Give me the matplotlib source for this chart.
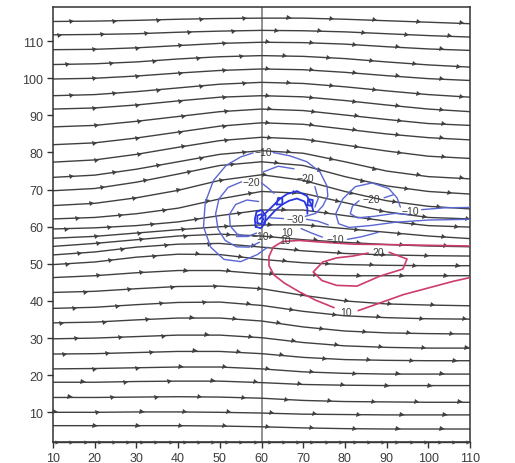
import numpy as np
import matplotlib
matplotlib.use("Agg")
import matplotlib.pyplot as plt
from matplotlib.markers import MarkerStyle
from matplotlib.transforms import Affine2D

# ---------------- data ----------------
stream_x = [10, 20, 30, 40, 50, 60, 70, 80, 90, 100, 110]

stream_upper = [
    [115.3, 115.4, 115.6, 115.9, 116.1, 116.2, 116.2, 115.9, 115.5, 115.1, 114.7],
    [111.7, 111.8, 112.0, 112.4, 112.7, 112.9, 112.8, 112.5, 112.0, 111.5, 111.1],
    [107.7, 107.8, 108.2, 108.8, 109.4, 109.7, 109.6, 109.2, 108.5, 107.9, 107.5],
    [103.7, 103.9, 104.4, 105.2, 105.8, 106.1, 105.9, 105.3, 104.4, 103.6, 103.0],
    [99.8, 100.0, 100.6, 101.4, 102.1, 102.5, 102.3, 101.6, 100.7, 99.9, 99.4],
    [95.3, 95.6, 96.4, 97.4, 98.4, 98.9, 98.6, 97.7, 96.6, 95.6, 94.9],
    [91.7, 92.0, 92.8, 93.9, 94.9, 95.3, 95.0, 94.0, 92.8, 91.7, 91.0],
    [86.9, 87.3, 88.4, 89.7, 91.0, 91.7, 91.3, 90.1, 88.9, 87.8, 87.3],
    [82.1, 82.6, 83.9, 85.5, 87.1, 88.0, 87.6, 86.3, 85.0, 84.0, 83.4],
    [77.4, 78.0, 79.5, 81.4, 83.2, 84.1, 83.6, 82.0, 80.4, 79.0, 78.4],
]
stream_middle = [
    [73.3, 73.9, 75.5, 77.5, 79.5, 80.5, 79.8, 77.5, 75.0, 73.5, 72.9],
    [69.7, 70.3, 72.0, 74.2, 76.5, 77.5, 76.5, 73.5, 71.0, 69.5, 68.8],
    [65.7, 66.3, 67.8, 69.8, 72.5, 74.0, 72.5, 69.5, 67.0, 65.5, 64.8],
    [62.1, 62.5, 63.5, 65.0, 67.5, 69.5, 69.0, 66.5, 64.0, 62.5, 62.1],
    [59.4, 59.7, 60.3, 61.3, 63.0, 64.5, 64.5, 63.0, 61.5, 60.3, 59.9],
    [56.9, 57.4, 58.3, 59.2, 60.0, 60.5, 60.5, 59.5, 58.5, 57.5, 56.8],
    [54.7, 55.5, 56.5, 57.5, 58.0, 57.5, 56.5, 55.8, 55.2, 54.8, 54.6],
    [52.4, 53.2, 54.5, 55.3, 55.5, 54.5, 53.5, 52.8, 52.4, 52.2, 52.1],
    [49.8, 50.5, 51.8, 52.6, 52.5, 51.2, 50.3, 49.8, 49.6, 49.5, 49.5],
    [46.3, 46.8, 47.6, 48.2, 48.2, 47.3, 47.0, 46.8, 46.8, 46.8, 46.8],
]
stream_lower = [
    [42.3, 42.6, 43.3, 43.9, 44.0, 43.3, 41.5, 40.0, 39.2, 38.9, 38.7],
    [38.0, 38.3, 39.0, 39.6, 39.7, 38.8, 37.2, 36.0, 35.5, 35.2, 35.1],
    [34.1, 34.3, 34.9, 35.4, 35.4, 34.6, 33.0, 31.9, 31.4, 31.2, 31.1],
    [29.8, 30.0, 30.4, 30.8, 30.8, 30.1, 28.8, 27.9, 27.5, 27.3, 27.3],
    [25.7, 25.8, 26.1, 26.4, 26.4, 25.8, 24.8, 24.2, 24.0, 23.9, 23.9],
    [21.7, 21.8, 22.0, 22.2, 22.2, 21.7, 20.9, 20.5, 20.3, 20.3, 20.3],
    [18.1, 18.1, 18.3, 18.4, 18.4, 18.0, 17.5, 17.3, 17.2, 17.2, 17.2],
    [14.0, 14.0, 14.1, 14.2, 14.1, 13.8, 13.2, 12.9, 12.8, 12.7, 12.7],
    [10.0, 10.0, 10.1, 10.1, 10.0, 9.8, 9.5, 9.4, 9.3, 9.3, 9.3],
    [6.4, 6.4, 6.4, 6.4, 6.3, 6.1, 5.8, 5.6, 5.5, 5.5, 5.5],
]
stream_bottom = [2.0, 2.0, 2.0, 2.0, 2.0, 2.0, 2.0, 2.0, 2.0, 2.0, 2.0]

# first arrow position (x) on each streamline, top to bottom
arrow_first = [14.5, 11.7, 20.0, 13.7, 20.0, 14.5, 20.0, 20.5, 20.0, 20.5,
               14.5, 22.0, 19.3, 16.0, 13.3, 20.5, 21.0, 16.5, 13.6, 21.0,
               18.0, 15.3, 12.1, 15.8, 12.9, 20.0, 17.2, 14.1, 10.5, 20.0]

# negative (blue) contour pieces
neg10_ring = [(61.5, 54.5), (59, 52.5), (55, 50.6), (51, 51.2), (47.8, 54.5), (46.1, 60),
              (46.5, 66.5), (48.5, 72.5), (51.5, 76.5), (55, 78.8), (58.0, 79.9)]
neg10_arc = [(62.8, 80.0), (66.8, 79.1), (70.9, 77.5), (74.0, 74.8), (75.7, 71.0),
             (75.9, 68.3), (74.7, 65.6), (73.0, 63.6), (70.5, 62.8)]
neg20_ring = [(55.2, 72.1), (52, 70.6), (49.8, 67.5), (49, 63.5), (49.6, 59.3),
              (51.3, 56.3), (54, 54.6), (57, 54.5), (59.5, 55.8)]
neg20_ring_tail = [(60.0, 71.8), (61.5, 70.5), (63, 69)]
neg30_ring = [(59.3, 66.8), (56.5, 67.2), (53.8, 66), (52.3, 63.3), (52.5, 60.2),
              (54.2, 58), (56.8, 57.4), (58.8, 58.3)]
core_a = [(58.6, 60), (58.4, 62), (58.8, 64), (60, 64.5), (61, 63), (60.8, 60.8), (59.8, 59.6), (58.6, 60)]
core_b = [(59, 61), (59, 63), (60, 63.4), (60.4, 62), (59.9, 60.7), (59, 61)]
arch_a = [(59.6, 62.1), (62.8, 65.7), (64.4, 67.5), (66.1, 68.8), (68.5, 69.6),
          (70.9, 68.3), (72.1, 65.6), (72.4, 64.3)]
arch_b = [(60.5, 61), (63.2, 64.3), (65, 66), (66.6, 67), (68.5, 67.6),
          (70.3, 66.8), (71, 65), (71, 63.5)]
blob_a = [(63.6, 66.0), (64.0, 67.8), (65.0, 67.6), (65.0, 66.0), (63.6, 66.0)]
blob_b = [(71.0, 65.8), (71.2, 67.4), (72.3, 67.2), (72.2, 65.6), (71.0, 65.8)]
neg20_arc_a = [(60.5, 74.8), (64, 76.3), (67.8, 75.6)]
neg20_arc_b = [(72.8, 70.8), (73.6, 67.6), (72.8, 65.3)]
neg30_left = [(62.0, 62.4), (65.3, 62.2)]
neg30_right = [(70.8, 62.0), (73.5, 61.5), (76, 60.5)]
neg10_low_a = [(53.8, 57.6), (56.6, 57.6)]
neg10_mid_a = [(69.5, 59.5), (72, 58.3), (74.6, 57.2)]
neg10_mid_b = [(80.6, 56.6), (84, 57.3), (88, 58.5)]
neg10_right_a = [(110, 65.2), (104, 65.1), (98.4, 64.6)]
neg10_right_b = [(93.3, 65.3), (92.5, 67.8), (90.5, 70.3), (86.5, 71.8), (82.5, 70.8),
                 (79.5, 67.5), (77.8, 63.5), (78.5, 60.8), (81, 59.8), (86, 60.3),
                 (92, 61.2), (100, 61.8), (110, 62.0)]
neg20_right_a = [(91.6, 68.6), (89.4, 67.8)]
neg20_right_b = [(83.4, 67.0), (81.8, 65.5), (81.3, 63.5), (83, 62.4), (87, 62.8),
                 (92, 63.6), (96, 63.2)]

# positive (red) contour pieces
pos10_a = [(110, 54.8), (100, 55.0), (90, 55.2), (82, 55.3), (75, 55.8), (69, 56.3),
           (65, 56.0), (62.8, 54.5), (61.8, 52), (61.8, 49.5), (63, 47), (65.5, 44.8),
           (69, 42.5), (73, 40.2), (77.4, 38.2)]
pos10_b = [(83.2, 37.4), (88, 39.3), (94, 41.7), (100, 43.5), (106, 45.3), (110, 46.3)]
pos20_a = [(85.6, 52.9), (81.9, 52.1), (78, 51.6), (74.7, 50.5), (72.4, 47.8),
           (74.5, 45.5), (78, 44.2), (82.9, 44.0), (88.4, 46.7), (93.9, 48.6),
           (94.9, 51.3), (90.6, 53.1)]

contour_labels = [
    ("-10", 60.4, 80.1), ("-20", 57.6, 72.0), ("-20", 70.4, 73.0), ("-30", 68.0, 62.1),
    ("-10", 59.6, 57.6), ("10", 66.0, 58.6), ("10", 65.6, 56.3), ("-10", 77.6, 56.8),
    ("-20", 86.4, 67.5), ("-10", 95.8, 64.3), ("20", 88.0, 53.1), ("10", 80.3, 37.0),
]

x_ticks = [10, 20, 30, 40, 50, 60, 70, 80, 90, 100, 110]
y_ticks = [10, 20, 30, 40, 50, 60, 70, 80, 90, 100, 110]

# ---------------- drawing ----------------
plt.rcParams["font.family"] = ["Liberation Sans", "DejaVu Sans"]
fig = plt.figure(figsize=(5.15, 4.64), dpi=100)
ax = fig.add_axes([53 / 515, 1 - 443 / 464, (470 - 53) / 515, (443 - 8) / 464])
ax.set_xlim(10, 110)
ax.set_ylim(2, 119.2)

line_col = "#404040"
blue = "#5a66d2"
dark_blue = "#2a36e0"
red = "#cc3c6c"

ax.axvline(60, color="#888888", lw=1.3, zorder=1)

all_lines = stream_upper + stream_middle + stream_lower


def draw_arrows(xs, ys, first, step, size=3.6):
    xa = np.arange(first, 110.0, step)
    sx = ax.transData.transform((1, 0))[0] - ax.transData.transform((0, 0))[0]
    sy = ax.transData.transform((0, 1))[1] - ax.transData.transform((0, 0))[1]
    for xv in xa:
        yv = np.interp(xv, xs, ys)
        y2 = np.interp(xv + 0.5, xs, ys)
        ang = np.degrees(np.arctan2((y2 - yv) * sy, 0.5 * sx))
        m = MarkerStyle(">", transform=Affine2D().rotate_deg(ang))
        ax.plot([xv], [yv], marker=m, ms=size, color=line_col, mew=0, zorder=3,
                clip_on=False)


for i, ys in enumerate(all_lines):
    ax.plot(stream_x, ys, color=line_col, lw=1.0, zorder=2)
    draw_arrows(stream_x, ys, arrow_first[i], 10.4)

ax.plot(stream_x, stream_bottom, color=line_col, lw=1.0, zorder=2, clip_on=False)
draw_arrows(stream_x, stream_bottom, 11.0, 3.4, size=3.0)


def seg(pts, col, lw=1.0):
    ax.plot([p[0] for p in pts], [p[1] for p in pts], color=col, lw=lw, zorder=4,
            solid_capstyle="round")


for pts in [neg10_ring, neg10_arc, neg20_ring, neg20_ring_tail, neg30_ring,
            neg20_arc_a, neg20_arc_b, neg30_left, neg30_right, neg10_low_a,
            neg10_mid_a, neg10_mid_b, neg10_right_a, neg10_right_b,
            neg20_right_a, neg20_right_b]:
    seg(pts, blue)
for pts in [core_a, core_b, arch_a, arch_b, blob_a, blob_b]:
    seg(pts, dark_blue, lw=1.3)
for pts in [pos10_a, pos10_b, pos20_a]:
    seg(pts, red, lw=1.2)

for txt, xv, yv in contour_labels:
    ax.text(xv, yv, txt.replace("-", "\u2212"), fontsize=7.5, color="#3c3c3c",
            ha="center", va="center", zorder=5)

ax.set_xticks(x_ticks)
ax.set_yticks(y_ticks)
ax.tick_params(direction="out", length=4, width=1, colors="#333333",
               labelcolor="#3c3c3c", labelsize=9, pad=3)
for sp in ax.spines.values():
    sp.set_color("#333333")
    sp.set_linewidth(1.1)

fig.savefig("out.png", dpi=100)
